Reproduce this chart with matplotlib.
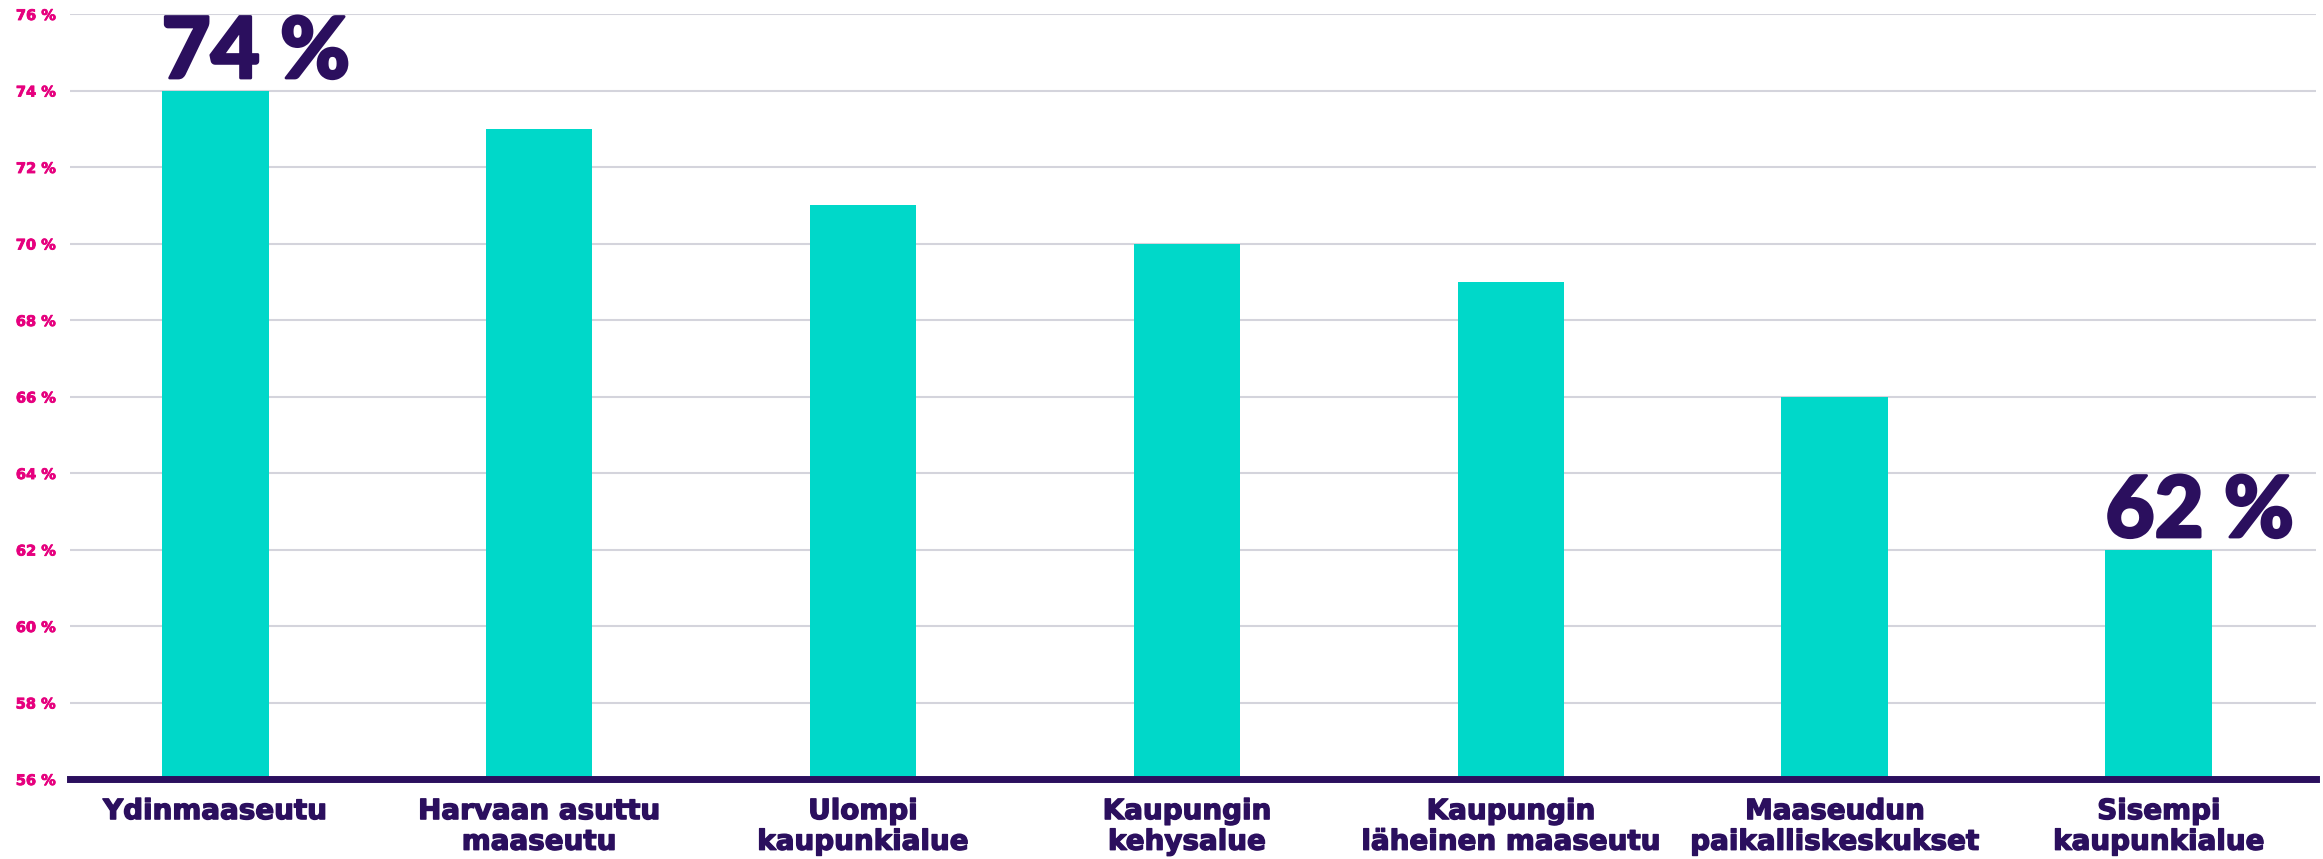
import matplotlib
matplotlib.use("Agg")
import matplotlib.pyplot as plt
import matplotlib.patheffects as pe
import numpy as np

############################################
# DATA
############################################

categories = [
    "Ydinmaaseutu",
    "Harvaan asuttu\nmaaseutu",
    "Ulompi\nkaupunkialue",
    "Kaupungin\nkehysalue",
    "Kaupungin\nläheinen maaseutu",
    "Maaseudun\npaikalliskeskukset",
    "Sisempi\nkaupunkialue",
]
values = [74, 73, 71, 70, 69, 66, 62]
highlight = [0, 6]  # bars that get a big value label
yticks = list(range(56, 77, 2))

############################################
# STYLE
############################################

BAR_COLOR = "#00d8c9"
DARK = "#2b0f5e"
PINK = "#e6007e"
GRID = "#d4d4dc"

plt.rcParams["font.family"] = ["DejaVu Sans"]

fig = plt.figure(figsize=(23.23, 8.59), dpi=100)
ax = fig.add_axes([0.0301, 0.0931, 0.9669, 0.8906])

x = np.arange(len(values))
bar_w = 0.33
ax.bar(x, values, width=bar_w, color=BAR_COLOR, zorder=2)

ax.set_ylim(56, 76)
ax.set_xlim(-0.448, len(values) - 1 + 0.485)

ax.set_yticks(yticks)
ax.set_yticklabels([f"{v} %" for v in yticks], color=PINK,
                   fontsize=10.5, fontweight="bold")
ax.tick_params(axis="y", length=0, pad=10)
for lbl in ax.get_yticklabels():
    lbl.set_path_effects([pe.withStroke(linewidth=0.6, foreground=PINK)])

ax.set_xticks(x)
ax.set_xticklabels(categories, color=DARK, fontsize=20, fontweight="bold",
                   linespacing=1.12, va="top")
ax.tick_params(axis="x", length=0, pad=13)
for lbl in ax.get_xticklabels():
    lbl.set_path_effects([pe.withStroke(linewidth=1.0, foreground=DARK)])

ax.grid(axis="y", color=GRID, linewidth=1.5, zorder=0)
for side in ["top", "right", "left"]:
    ax.spines[side].set_visible(False)
ax.spines["bottom"].set_color(DARK)
ax.spines["bottom"].set_linewidth(5)
ax.spines["bottom"].set_zorder(3)

# big value labels on the first and last bar
for i in highlight:
    ax.annotate(f"{values[i]} %", xy=(x[i] - bar_w / 2, values[i]),
                xytext=(0, 9), textcoords="offset points",
                ha="left", va="baseline", color=DARK,
                fontsize=61, fontweight="black", family=["Lato", "DejaVu Sans"],
                path_effects=[pe.withStroke(linewidth=2, foreground=DARK)])

plt.savefig("out.png", dpi=100)
plt.close()
